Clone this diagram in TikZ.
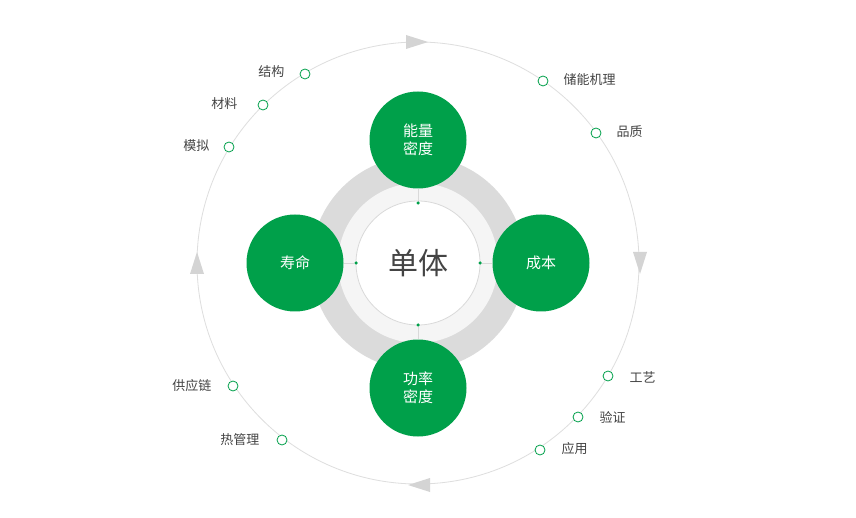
\documentclass[tikz,border=0pt]{standalone}
\usepackage{fontspec}
\setmainfont{Noto Sans CJK SC}
\begin{document}
\begin{tikzpicture}[x=1pt,y=-1pt,
  big/.style={circle,fill=mygreen,minimum size=97pt,inner sep=0pt,text=white,font=\fontsize{15}{18}\selectfont,align=center},
  sm/.style={circle,draw=mygreen,fill=white,line width=0.8pt,minimum size=10pt,inner sep=0pt},
  lab/.style={text=txtgray,font=\fontsize{13}{15}\selectfont},
  dot/.style={circle,fill=mygreen,minimum size=3.5pt,inner sep=0pt},
  tri/.style={fill=arrgray}]
\definecolor{mygreen}{HTML}{00A04A}
\definecolor{txtgray}{HTML}{444444}
\definecolor{arrgray}{HTML}{D4D4D4}
\useasboundingbox (0,0) rectangle (856,518);
\fill[white] (0,0) rectangle (856,518);
\coordinate (c) at (418,263);
\draw[line width=0.8pt,draw=black!13] (c) circle (221);
\fill[black!14] (c) circle (107);
\fill[black!4] (c) circle (80);
\draw[black!15,fill=white,line width=0.8pt] (c) circle (62);
\node[text=txtgray,font=\fontsize{30}{34}\selectfont] (ct) at (c) {单体};
% arrows on outer circle
\fill[tri] (406,35) -- (428,42) -- (406,49) -- cycle;
\fill[tri] (633,252) -- (640,274) -- (647,252) -- cycle;
\fill[tri] (430,478) -- (408,485) -- (430,492) -- cycle;
\fill[tri] (190,274) -- (197,252) -- (204,274) -- cycle;
% dots and ticks
\node[dot] (d1) at (418,203) {};
\node[dot] (d2) at (418,325) {};
\node[dot] (d3) at (356,263) {};
\node[dot] (d4) at (480,263) {};
\node[big] (n1) at (418,140) {能量\\密度};
\node[big] (n2) at (418,388) {功率\\密度};
\node[big] (n3) at (295,263) {寿命};
\node[big] (n4) at (541,263) {成本};
\draw[black!15,line width=0.8pt] (d1) -- (n1) (d2) -- (n2) (d3) -- (n3) (d4) -- (n4);
% outer items
\node[sm] (s1) at (305,74) {}; \node[lab,anchor=east] at (288,72) {结构};
\node[sm] (s2) at (263,105) {}; \node[lab,anchor=east] at (241,104) {材料};
\node[sm] (s3) at (229,147) {}; \node[lab,anchor=east] at (213,146) {模拟};
\node[sm] (s4) at (543,81) {}; \node[lab,anchor=west] at (560,80) {储能机理};
\node[sm] (s5) at (596,133) {}; \node[lab,anchor=west] at (613,132) {品质};
\node[sm] (s6) at (608,376) {}; \node[lab,anchor=west] at (626,377) {工艺};
\node[sm] (s7) at (578,417) {}; \node[lab,anchor=west] at (596,417) {验证};
\node[sm] (s8) at (540,450) {}; \node[lab,anchor=west] at (558,449) {应用};
\node[sm] (s9) at (233,386) {}; \node[lab,anchor=east] at (215,386) {供应链};
\node[sm] (s10) at (282,440) {}; \node[lab,anchor=east] at (263,440) {热管理};
\end{tikzpicture}
\end{document}
